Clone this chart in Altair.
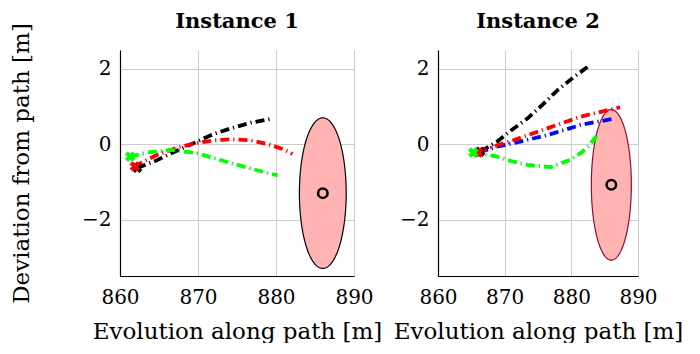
import altair as alt
import pandas as pd
import numpy as np

FONT = "DejaVu Serif"

# ---------------- data ----------------
# Instance 1
p1_black_x = [862.2, 864.5, 867.0, 869.9, 872.0, 874.2, 876.8, 879.5]
p1_black_y = [-0.63, -0.45, -0.20, 0.07, 0.27, 0.42, 0.57, 0.68]
p1_red_x = [861.8, 864.8, 867.5, 869.9, 872.0, 874.2, 876.8, 879.3, 881.0, 882.1]
p1_red_y = [-0.59, -0.28, -0.08, 0.03, 0.10, 0.13, 0.10, -0.02, -0.14, -0.26]
p1_green_x = [861.3, 863.5, 866.5, 869.9, 872.0, 874.2, 877.0, 880.2]
p1_green_y = [-0.33, -0.22, -0.15, -0.24, -0.37, -0.50, -0.66, -0.83]

# Instance 2
p2_black_x = [866.4, 868.9, 871.0, 873.4, 875.7, 877.9, 880.5, 882.9]
p2_black_y = [-0.19, 0.07, 0.37, 0.68, 1.05, 1.43, 1.80, 2.11]
p2_blue_x = [866.2, 868.5, 871.4, 876.4, 881.4, 884.0, 886.6]
p2_blue_y = [-0.22, -0.08, 0.03, 0.24, 0.51, 0.60, 0.68]
p2_red_x = [866.0, 868.5, 871.4, 876.4, 881.4, 886.1, 887.3]
p2_red_y = [-0.22, -0.05, 0.11, 0.42, 0.73, 0.93, 0.98]
p2_green_x = [865.2, 868.9, 871.0, 873.4, 876.9, 879.9, 881.5, 882.6, 883.9]
p2_green_y = [-0.22, -0.33, -0.45, -0.55, -0.61, -0.41, -0.22, -0.05, 0.24]

# ellipses (center x, center y, radius x, radius y)
p1_ellipse = [886.0, -1.30, 3.0, 2.0]
p2_ellipse = [886.0, -1.08, 3.0, 2.0]

# start crosses (x, y, colour)
p1_cross_x = [861.3, 862.2, 861.9]
p1_cross_y = [-0.33, -0.63, -0.59]
p1_cross_c = ["green", "black", "red"]
p2_cross_x = [866.3, 866.0, 865.3]
p2_cross_y = [-0.20, -0.22, -0.22]
p2_cross_c = ["black", "red", "green"]

COLORS = {"black": "#000000", "red": "#ff0000", "green": "#00ff00", "blue": "#0000ff"}

XDOM = [860, 890]
YDOM = [-3.5, 2.5]


def line_df(xs, ys, name):
    return pd.DataFrame({"x": xs, "y": ys, "s": name, "o": range(len(xs))})


def ellipse_df(e):
    cx, cy, rx, ry = e
    t = np.linspace(0, np.pi, 121)
    return pd.DataFrame({
        "x": cx + rx * np.cos(t),
        "y": cy + ry * np.sin(t),
        "y2": cy - ry * np.sin(t),
    })


xscale = alt.Scale(domain=XDOM, nice=False, zero=False)
yscale = alt.Scale(domain=YDOM, nice=False, zero=False)

AX = dict(grid=True, tickSize=0, labelFont=FONT, titleFont=FONT, labelFontSize=20,
          titleFontSize=23, labelColor="#000", titleColor="#000",
          titleFontWeight="normal", domainColor="#000", domainWidth=1.2,
          gridColor="#cccccc", gridWidth=1, labelFlush=False)


def panel(title, lines, ellipse, ell_stroke, crosses, width, ytitle, tdy):
    xaxis = alt.Axis(values=[860, 870, 880, 890], title="Evolution along path [m]",
                     titlePadding=13, labelPadding=11, format="d", **AX)
    if ytitle:
        yaxis = alt.Axis(values=[-2, 0, 2], title=ytitle, titlePadding=48,
                         labelPadding=9, **AX)
    else:
        yaxis = alt.Axis(values=[-2, 0, 2], title=None, labelPadding=9, **AX)

    edf = ellipse_df(ellipse)
    ell = alt.Chart(edf).mark_area(fill="#ffb3b3", stroke=ell_stroke, strokeWidth=1.2,
                                   opacity=1).encode(
        x=alt.X("x:Q", scale=xscale, axis=xaxis),
        y=alt.Y("y:Q", scale=yscale, axis=yaxis),
        y2="y2:Q",
    )
    layers = [ell]
    for xs, ys, name in lines:
        d = line_df(xs, ys, name)
        layers.append(
            alt.Chart(d).mark_line(color=COLORS[name], strokeWidth=3.8,
                                   strokeDash=[9, 4, 1.2, 4], clip=True).encode(
                x=alt.X("x:Q", scale=xscale),
                y=alt.Y("y:Q", scale=yscale),
                order="o:Q",
            )
        )
    cx, cy, cc = crosses
    for xv, yv, c in zip(cx, cy, cc):
        layers.append(
            alt.Chart(pd.DataFrame({"x": [xv], "y": [yv]})).mark_point(
                shape="cross", angle=45, size=110, filled=True, color=COLORS[c],
                opacity=1).encode(
                x=alt.X("x:Q", scale=xscale),
                y=alt.Y("y:Q", scale=yscale),
            )
        )
    layers.append(
        alt.Chart(pd.DataFrame({"x": [ellipse[0]], "y": [ellipse[1]]})).mark_point(
            shape="circle", size=90, filled=False, color="black", strokeWidth=2.5,
            opacity=1).encode(
            x=alt.X("x:Q", scale=xscale),
            y=alt.Y("y:Q", scale=yscale),
        )
    )
    return alt.layer(*layers).properties(
        width=width, height=226,
        title=alt.TitleParams(title, fontSize=21, font=FONT, fontWeight="bold",
                              offset=18, anchor="middle", frame="group", dy=tdy),
    )


p1 = panel("Instance 1",
           [(p1_black_x, p1_black_y, "black"), (p1_red_x, p1_red_y, "red"),
            (p1_green_x, p1_green_y, "green")],
           p1_ellipse, "#000000", (p1_cross_x, p1_cross_y, p1_cross_c), 234,
           "Deviation from path [m]", 27)
p2 = panel("Instance 2",
           [(p2_black_x, p2_black_y, "black"), (p2_blue_x, p2_blue_y, "blue"),
            (p2_red_x, p2_red_y, "red"), (p2_green_x, p2_green_y, "green")],
           p2_ellipse, "#8a0f3a", (p2_cross_x, p2_cross_y, p2_cross_c), 200, None, 0)

chart = alt.hconcat(p1, p2, spacing=84, bounds="flush").resolve_scale(
    x="independent", y="independent"
).properties(
    padding={"left": 2, "right": 0, "top": 2, "bottom": 0}
).configure_view(stroke=None)

chart.save("out.html", embed_options={"renderer": "svg", "actions": False})
